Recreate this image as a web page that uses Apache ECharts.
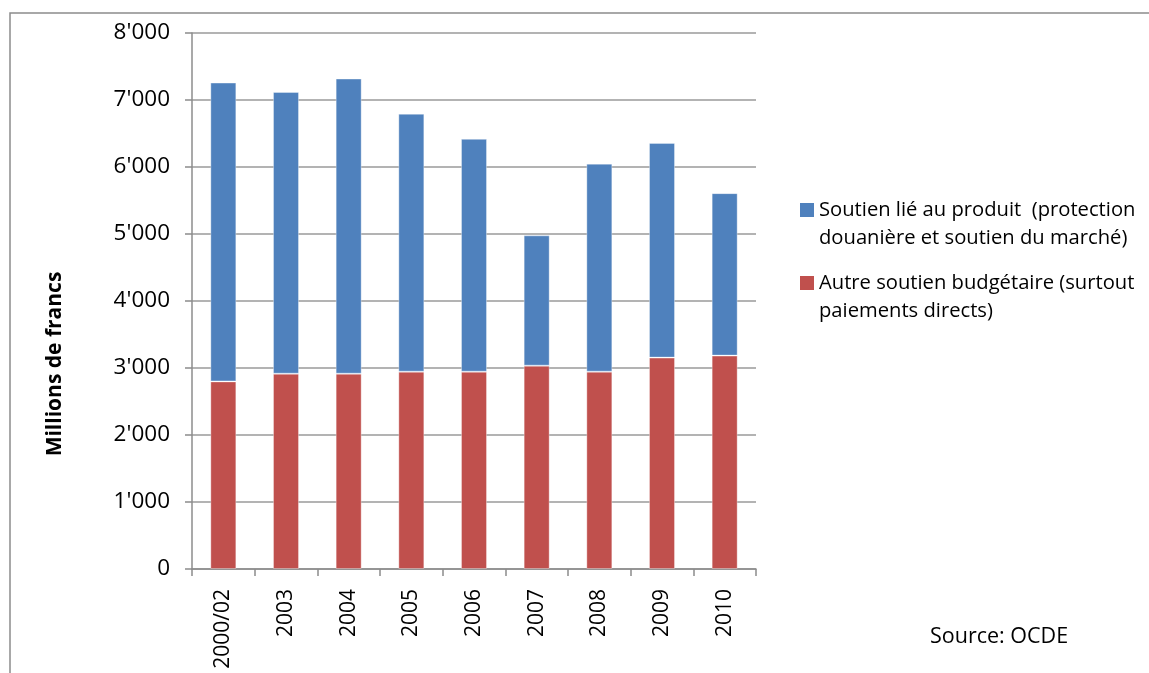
<!DOCTYPE html>
<html>
<head>
<meta charset="utf-8">
<script src="https://cdn.jsdelivr.net/npm/echarts@6/dist/echarts.min.js"></script>
<style>
html,body{margin:0;padding:0;background:#fff;overflow:hidden;}
#chart{width:1149px;height:673px;}
</style>
</head>
<body>
<div id="chart"></div>
<script>
const categories = ['2000/02','2003','2004','2005','2006','2007','2008','2009','2010'];
const autreSoutien = [2800, 2915, 2915, 2945, 2945, 3035, 2945, 3155, 3185];
const soutienProduit = [4460, 4205, 4405, 3850, 3475, 1945, 3105, 3205, 2425];
const yTicks = [0, 1000, 2000, 3000, 4000, 5000, 6000, 7000, 8000];
const seriesNames = [
  'Soutien lié au produit  (protection\ndouanière et soutien du marché)',
  'Autre soutien budgétaire (surtout\npaiements directs)'
];

const chart = echarts.init(document.getElementById('chart'));
const fmt = v => {
  const s = String(v);
  return s.length > 3 ? s.slice(0, s.length - 3) + "'" + s.slice(-3) : s;
};
const FONT = 'Open Sans';
chart.setOption({
  animation: false,
  backgroundColor: '#fff',
  graphic: [{
    type: 'polyline',
    shape: { points: [[10, 700], [10, 13], [1170, 13]] },
    style: { fill: 'none', stroke: '#8c8c8c', lineWidth: 1.5 },
    silent: true,
    z: -1
  }],
  title: {
    text: 'Source: OCDE',
    left: 925, top: 621,
    textStyle: { fontFamily: FONT, fontSize: 21.5, fontWeight: 'normal', color: '#000' }
  },
  legend: {
    orient: 'vertical',
    left: 800, top: 196,
    padding: 0,
    itemWidth: 14, itemHeight: 42,
    itemGap: 17,
    icon: 'path://M0,0H14V14H0Z M0,42L0.01,42',
    itemStyle: { borderWidth: 0 },
    data: [seriesNames[0], seriesNames[1]],
    textStyle: {
      fontFamily: FONT, fontSize: 20.2, color: '#000',
      lineHeight: 28
    },
    selectedMode: false
  },
  grid: { left: 192, right: 393, top: 33, bottom: 104 },
  xAxis: {
    type: 'category',
    data: categories,
    axisLine: { lineStyle: { color: '#8c8c8c', width: 1.5 } },
    axisTick: { show: true, length: 7, alignWithLabel: false, lineStyle: { color: '#8c8c8c', width: 1.5 } },
    axisLabel: {
      rotate: 90, margin: 20, color: '#000',
      fontFamily: FONT, fontSize: 21
    }
  },
  yAxis: {
    type: 'value',
    min: yTicks[0], max: yTicks[yTicks.length - 1], interval: 1000,
    name: 'Millions de francs',
    nameLocation: 'middle',
    nameGap: 126,
    nameTextStyle: {
      fontFamily: FONT, fontSize: 21, fontWeight: 'bold', color: '#000',
      padding: [0, 126, 0, 0]
    },
    axisLine: { show: true, lineStyle: { color: '#8c8c8c', width: 1.5 } },
    axisTick: { show: true, length: 7, inside: false, lineStyle: { color: '#8c8c8c', width: 1.5 } },
    splitLine: { lineStyle: { color: '#9a9a9a', width: 1.5 } },
    axisLabel: {
      margin: 22, color: '#000',
      fontFamily: FONT, fontSize: 22.5,
      formatter: fmt
    }
  },
  series: [
    {
      name: seriesNames[1], type: 'bar', stack: 'total',
      data: autreSoutien, barWidth: 26,
      itemStyle: { color: '#C0504D', borderColor: 'rgba(255,255,255,0.35)', borderWidth: 1 }
    },
    {
      name: seriesNames[0], type: 'bar', stack: 'total',
      data: soutienProduit, barWidth: 26,
      itemStyle: { color: '#4F81BD', borderColor: 'rgba(255,255,255,0.35)', borderWidth: 1 }
    }
  ]
});
</script>
</body>
</html>
